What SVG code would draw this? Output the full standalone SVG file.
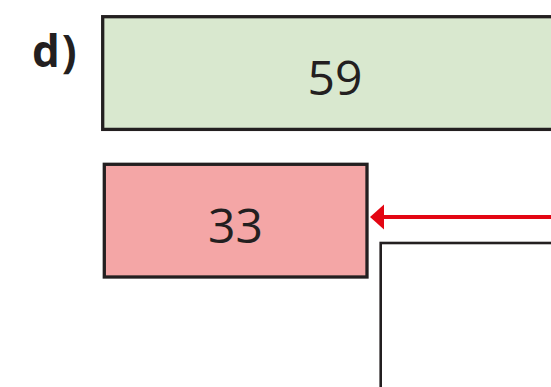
<svg xmlns="http://www.w3.org/2000/svg" width="551" height="387" viewBox="0 0 551 387">
<style>
.box{stroke:#231f20;stroke-width:3.3}
.num{font-family:"Open Sans","Noto Sans",sans-serif;font-size:48px;fill:#231f20;text-anchor:middle}
.lbl{font-family:"Open Sans","Noto Sans",sans-serif;font-size:44px;font-weight:bold;fill:#231f20}
</style>
<rect width="551" height="387" fill="#ffffff"/>
<text class="lbl" x="32" y="67" letter-spacing="2">d)</text>
<g id="n59">
<rect class="box" x="102.7" y="16.7" width="460" height="112.7" fill="#d9e8cf"/>
<text class="num" x="335" y="95">59</text>
</g>
<g id="n33">
<rect class="box" x="104.3" y="164.3" width="262.7" height="112.7" fill="#f4a6a6"/>
<text class="num" x="235.5" y="243">33</text>
</g>
<g id="frame">
<rect x="380.7" y="243" width="200" height="160" fill="#ffffff" stroke="#231f20" stroke-width="2.6"/>
</g>
<g id="connectors">
<line x1="560" y1="217" x2="384" y2="217" stroke="#e30613" stroke-width="4"/>
<path d="M370,217 L384,204.5 L384,229.5 Z" fill="#e30613"/>
</g>
</svg>
